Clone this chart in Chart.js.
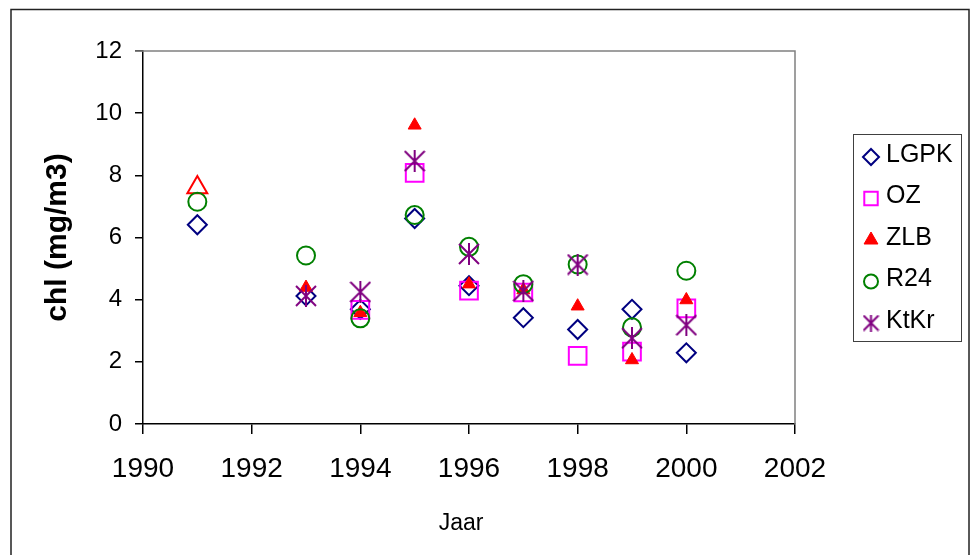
<!DOCTYPE html>
<html>
<head>
<meta charset="utf-8">
<script src="https://cdn.jsdelivr.net/npm/chart.js@4/dist/chart.umd.min.js"></script>
<style>
  html, body { margin: 0; padding: 0; background: #fff; }
  #wrap { width: 974px; height: 555px; position: relative; }
</style>
</head>
<body>
<div id="wrap"><canvas id="chart" width="974" height="555"></canvas></div>
<script>
// meetjaren en chlorofyl per station (mg/m3)
const years = [1991, 1993, 1994, 1995, 1996, 1997, 1998, 1999, 2000];
const lgpk  = [6.41, 4.12, 3.69, 6.61, 4.45, 3.42, 3.04, 3.69, 2.29];
const oz    = [null, null, 3.67, 8.08, 4.29, 4.23, 2.19, 2.33, 3.72];
const zlb   = [7.61, 4.39, 3.58, 9.61, 4.50, 4.31, 3.79, 2.06, 3.99];
const r24   = [7.15, 5.42, 3.40, 6.72, 5.70, 4.50, 5.13, 3.11, 4.93];
const ktkr  = [null, 4.12, 4.25, 8.46, 5.47, 4.28, 5.13, 2.76, 3.18];

const seriesNames = ['LGPK', 'OZ', 'ZLB', 'R24', 'KtKr'];
const xTicks = [1990, 1992, 1994, 1996, 1998, 2000, 2002];
const yTicks = [0, 2, 4, 6, 8, 10, 12];
const xTitle = 'Jaar';
const zlbOpenYear = 1991; // deze driehoek is niet gevuld

const FONT = '"Liberation Sans", Arial, sans-serif';

function toPoints(vals) {
    return years.map((y, i) => ({ x: y, y: vals[i] })).filter(p => p.y !== null);
}

function makeStar(size, lw, color) {
    const c = document.createElement('canvas');
    c.width = size; c.height = size;
    const g = c.getContext('2d');
    g.strokeStyle = color;
    g.lineWidth = lw;
    g.beginPath();
    g.moveTo(1, 1); g.lineTo(size - 1, size - 1);
    g.moveTo(size - 1, 1); g.lineTo(1, size - 1);
    g.moveTo(size / 2, 0); g.lineTo(size / 2, size);
    g.stroke();
    return c;
}

const NAVY = '#000080', MAGENTA = '#FF00FF', RED = '#FF0000', GREEN = '#008000', PURPLE = '#800080';
const starBig = makeStar(22, 2, PURPLE);
const starSmall = makeStar(17, 2, PURPLE);

// legenda met kader, zoals in Excel
const legendStyles = [
    { style: 'rectRot', r: 8, fill: 'transparent', stroke: NAVY, bw: 2 },
    { style: 'rect', r: 9.5, fill: 'transparent', stroke: MAGENTA, bw: 2 },
    { style: 'triangle', r: 8, fill: RED, stroke: RED, bw: 1 },
    { style: 'circle', r: 7, fill: 'transparent', stroke: GREEN, bw: 2 },
    { style: starSmall, r: 8, fill: 'transparent', stroke: PURPLE, bw: 0 }
];

const framePlugin = {
    id: 'frame',
    beforeDraw(chart) {
        const ctx = chart.ctx;
        ctx.save();
        ctx.fillStyle = '#fff';
        ctx.fillRect(0, 0, chart.width, chart.height);
        ctx.strokeStyle = '#222';
        ctx.lineWidth = 1.5;
        ctx.strokeRect(11, 9.5, 958, 560);
        ctx.restore();
    },
    afterDraw(chart) {
        const ctx = chart.ctx;
        const a = chart.chartArea;
        ctx.save();
        // grijze rand boven en rechts van het plotvlak
        ctx.strokeStyle = '#808080';
        ctx.lineWidth = 1.5;
        ctx.beginPath();
        ctx.moveTo(a.left - 8, a.top);
        ctx.lineTo(a.right, a.top);
        ctx.lineTo(a.right, a.bottom);
        ctx.stroke();

        // x-as titel staat in Excel iets links van het midden
        ctx.fillStyle = '#000';
        ctx.font = '23px ' + FONT;
        ctx.textAlign = 'center';
        ctx.textBaseline = 'middle';
        ctx.fillText(xTitle, 461, 524);

        ctx.strokeStyle = '#404040';
        ctx.lineWidth = 1;
        ctx.strokeRect(853.5, 134.5, 108, 207);

        ctx.font = '25px ' + FONT;
        ctx.textAlign = 'left';
        for (let i = 0; i < seriesNames.length; i++) {
            const ty = 155 + i * 41.5;
            const s = legendStyles[i];
            ctx.fillStyle = s.fill;
            ctx.strokeStyle = s.stroke;
            ctx.lineWidth = s.bw;
            Chart.helpers.drawPoint(ctx, { pointStyle: s.style, radius: s.r, borderWidth: s.bw, rotation: 0 }, 871, ty + 2);
            ctx.fillStyle = '#000';
            ctx.fillText(seriesNames[i], 886, ty);
        }
        ctx.restore();
    }
};

new Chart(document.getElementById('chart'), {
    type: 'scatter',
    data: {
        datasets: [
            {
                label: seriesNames[0], data: toPoints(lgpk), order: 4,
                pointStyle: 'rectRot', pointRadius: 9.5, pointBorderWidth: 2,
                pointBorderColor: NAVY, pointBackgroundColor: 'transparent'
            },
            {
                label: seriesNames[1], data: toPoints(oz), order: 3,
                pointStyle: 'rect', pointRadius: 12.5, pointBorderWidth: 2,
                pointBorderColor: MAGENTA, pointBackgroundColor: 'transparent'
            },
            {
                label: seriesNames[2], data: toPoints(zlb), order: 2,
                pointStyle: 'triangle',
                pointRadius: c => (c.raw && c.raw.x === zlbOpenYear) ? 11.5 : 7.5,
                pointBorderWidth: c => (c.raw && c.raw.x === zlbOpenYear) ? 2 : 1,
                pointBorderColor: RED,
                pointBackgroundColor: c => (c.raw && c.raw.x === zlbOpenYear) ? 'transparent' : RED
            },
            {
                label: seriesNames[3], data: toPoints(r24), order: 1,
                pointStyle: 'circle', pointRadius: 9, pointBorderWidth: 2,
                pointBorderColor: GREEN, pointBackgroundColor: 'transparent'
            },
            {
                label: seriesNames[4], data: toPoints(ktkr), order: 0,
                pointStyle: starBig, pointRadius: 11, pointBorderWidth: 2,
                pointBorderColor: PURPLE, pointBackgroundColor: 'transparent'
            }
        ]
    },
    options: {
        responsive: false,
        animation: false,
        events: [],
        layout: { padding: { left: 0, top: 51, right: 179, bottom: 0 } },
        plugins: {
            legend: { display: false },
            tooltip: { enabled: false }
        },
        scales: {
            x: {
                type: 'linear',
                min: xTicks[0], max: xTicks[xTicks.length - 1],
                afterBuildTicks: s => { s.ticks = xTicks.map(v => ({ value: v })); },
                afterFit: s => { s.height = 131; },
                ticks: {
                    color: '#000', padding: 18,
                    font: { family: FONT, size: 28 },
                    callback: v => String(v)
                },
                grid: { drawOnChartArea: false, drawTicks: true, tickLength: 10, color: '#000', lineWidth: 1.5 },
                border: { display: true, color: '#000', width: 1.5 },
                title: { display: false }
            },
            y: {
                type: 'linear',
                min: yTicks[0], max: yTicks[yTicks.length - 1],
                afterBuildTicks: s => { s.ticks = yTicks.map(v => ({ value: v })); },
                afterFit: s => { s.width = 143; },
                ticks: {
                    color: '#000', padding: 13,
                    font: { family: FONT, size: 24 }
                },
                grid: { drawOnChartArea: false, drawTicks: true, tickLength: 8, color: '#000', lineWidth: 1.5 },
                border: { display: true, color: '#000', width: 1.5 },
                title: {
                    display: true, text: 'chl (mg/m3)', color: '#000',
                    font: { family: FONT, size: 30, weight: 'bold' },
                    padding: { top: 40, bottom: 0 }
                }
            }
        }
    },
    plugins: [framePlugin]
});
</script>
</body>
</html>
